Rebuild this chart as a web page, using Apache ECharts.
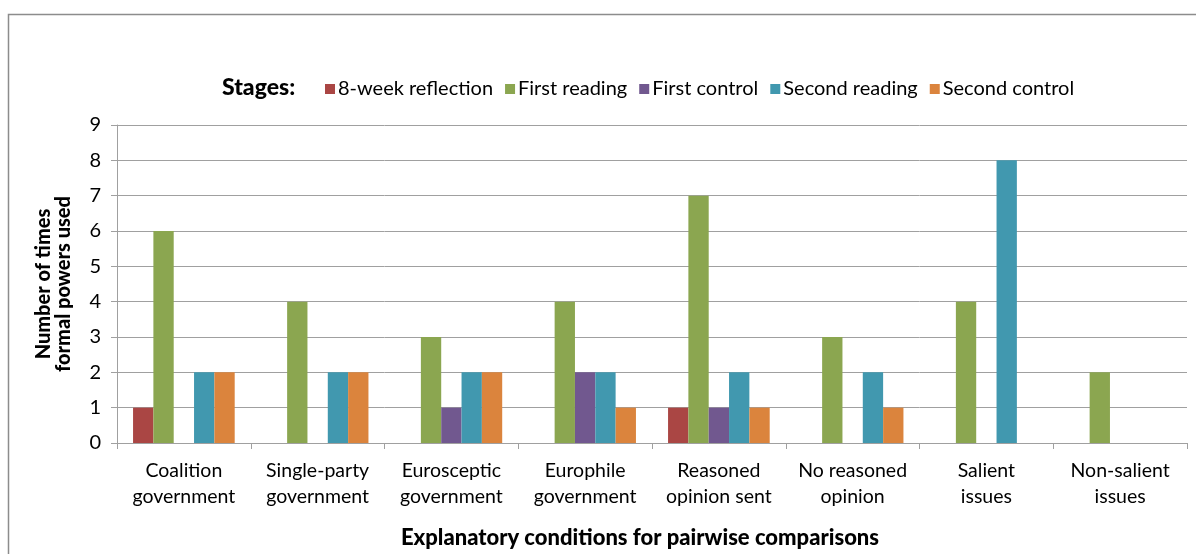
<!DOCTYPE html>
<html>
<head>
<meta charset="utf-8">
<script src="https://cdn.jsdelivr.net/npm/echarts@6/dist/echarts.min.js"></script>
<style>
  html, body { margin: 0; padding: 0; background: #fff; }
  #chart { width: 1196px; height: 554px; }
</style>
</head>
<body>
<div id="chart"></div>
<script>
// categories (x axis)
const categories = [
  'Coalition\ngovernment', 'Single-party\ngovernment', 'Eurosceptic\ngovernment',
  'Europhile\ngovernment', 'Reasoned\nopinion sent', 'No reasoned\nopinion',
  'Salient\nissues', 'Non-salient\nissues'
];
const stageNames = ['8-week reflection', 'First reading', 'First control', 'Second reading', 'Second control'];
const stageColors = ['#AA4644', '#8BA650', '#71588F', '#4198AF', '#DB843D'];

// values per stage, one per category
const eightWeek     = [1, 0, 0, 0, 1, 0, 0, 0];
const firstReading  = [6, 4, 3, 4, 7, 3, 4, 2];
const firstControl  = [0, 0, 1, 2, 1, 0, 0, 0];
const secondReading = [2, 2, 2, 2, 2, 2, 8, 0];
const secondControl = [2, 2, 2, 1, 1, 1, 0, 0];
const stageValues = [eightWeek, firstReading, firstControl, secondReading, secondControl];

const font = 'Lato, "Open Sans", sans-serif';
const chart = echarts.init(document.getElementById('chart'));

chart.setOption({
  animation: false,
  textStyle: { fontFamily: font, color: '#000' },
  graphic: [
    {
      type: 'rect',
      shape: { x: 8.5, y: 14.5, width: 1200, height: 600 },
      style: { fill: 'none', stroke: '#8c8c8c', lineWidth: 1.5 },
      silent: true
    },
    {
      type: 'text',
      left: 222, top: 76,
      style: { text: 'Stages:', font: '900 23px ' + font, fill: '#000' }
    }
  ],
  legend: {
    left: 320, top: 74,
    itemWidth: 10, itemHeight: 10, itemGap: 12,
    icon: 'rect',
    textStyle: { fontSize: 20, fontFamily: font, color: '#000', padding: [0, 0, 0, -2] },
    data: stageNames
  },
  grid: { left: 117, right: 9, top: 125, bottom: 109 },
  xAxis: {
    type: 'category',
    data: categories,
    name: 'Explanatory conditions for pairwise comparisons',
    nameLocation: 'middle',
    nameGap: 84,
    nameTextStyle: { fontSize: 22, fontWeight: 900, fontFamily: font, color: '#000', padding: [0, 24, 0, 0] },
    axisLine: { lineStyle: { color: '#a0a0a0', width: 1 } },
    axisTick: { show: true, length: 6, alignWithLabel: false, lineStyle: { color: '#a0a0a0' } },
    axisLabel: { fontSize: 19.5, lineHeight: 26, margin: 15, color: '#000', interval: 0 }
  },
  yAxis: {
    type: 'value',
    min: 0, max: 9, interval: 1,
    name: 'Number of times\nformal powers used',
    nameLocation: 'middle',
    nameGap: 43,
    nameRotate: 90,
    nameTextStyle: { fontSize: 20, fontWeight: 900, fontFamily: font, color: '#000', lineHeight: 20 },
    axisLine: { show: true, lineStyle: { color: '#a0a0a0' } },
    axisTick: { show: true, length: 6, lineStyle: { color: '#a0a0a0' } },
    splitLine: { lineStyle: { color: '#a0a0a0', width: 1 } },
    axisLabel: { fontSize: 20, margin: 16, color: '#000' }
  },
  series: stageNames.map((name, i) => ({
    name: name,
    type: 'bar',
    data: stageValues[i],
    barGap: '0%',
    barCategoryGap: '24%',
    itemStyle: { color: stageColors[i] }
  }))
});
</script>
</body>
</html>
